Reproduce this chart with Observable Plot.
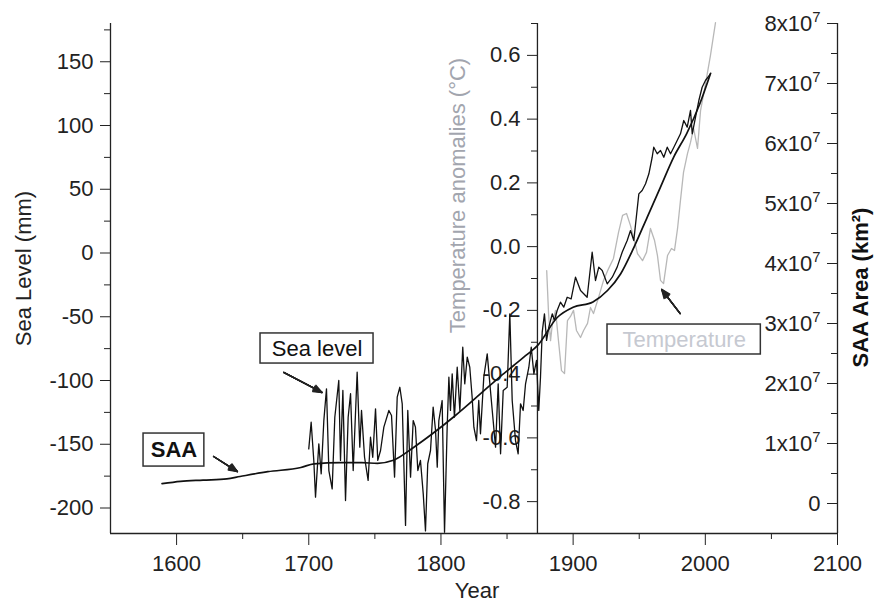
<!DOCTYPE html>
<html><head><meta charset="utf-8">
<script src="https://cdn.jsdelivr.net/npm/d3@7"></script>
<script src="https://cdn.jsdelivr.net/npm/@observablehq/plot@0.6"></script>
<style>
html,body{margin:0;padding:0;background:#fff;}
#chart{position:relative;width:874px;height:601px;}
#chart svg{position:absolute;left:0;top:0;}
</style></head><body><div id="chart"></div>
<script>
// ---- data ----
const seaYears = [1700,1701.8,1703.8,1705.1,1707.6,1709.4,1711.4,1713.4,1715.2,1717.7,
1719.7,1722.7,1724,1725.8,1727.8,1729.8,1731.6,1733.6,1736.6,1738.6,
1739.9,1742.2,1744.9,1746.7,1748.4,1750.5,1752.2,1754.3,1756.8,1760.6,
1762.6,1764.9,1766.9,1768.9,1770.7,1773.2,1774.9,1777,1779,1780.7,
1782.5,1784.5,1786.6,1788.3,1790,1792.1,1794.1,1795.9,1797.2,1798.4,
1800.9,1802.7,1804.7,1806,1807.2,1808.5,1810.2,1812.3,1814.3,1816.5,
1818,1819.9,1821.8,1823.6,1824.9,1826.9,1828.6,1829.9,1832.4,1835,
1837,1838.8,1841.3,1843.3,1845.1,1847.1,1850.1,1852.1,1853.9,1856.4,
1858.4,1860.2,1862.2,1864,1866.5,1868.3,1870.3,1872.3,1874,1875.3,
1876.6,1878.3,1879.9,1881.6,1884.2,1885.9,1887.9,1890.4,1892.9,1895.5,
1898.5,1901.8,1905.6,1910.6,1914.4,1916.9,1919.4,1922,1925.8,1929.6,
1933.3,1937.1,1940.9,1943.4,1945.9,1949.7,1952.2,1954.8,1957.3,1959.8,
1961,1963.6,1966.1,1968.6,1971.2,1973.7,1976.2,1978.7,1981.2,1983.7,
1986.3,1988.8,1990.1,1992.6,1995.1,1997.6,2000.1,2003.9];
const seaLevelMm = [-153.6,-132.7,-162.7,-191.5,-149.7,-173.2,-131.4,-106.5,-170.6,-185,
-128.8,-100,-162.7,-107.8,-194.1,-128.8,-110.4,-170.6,-93.5,-152.3,
-123.5,-160.2,-178.4,-144.5,-160.2,-122.2,-162.7,-154.9,-136.6,-123.5,
-127.5,-175.8,-113.1,-105.3,-118.3,-213.7,-123.5,-175.8,-131.4,-136.6,
-170.6,-162.7,-188.9,-218,-165.3,-154.9,-120.9,-139.2,-168,-131.4,
-115.7,-219,-136.6,-97.4,-123.5,-94.8,-128.8,-89.6,-123.5,-73.9,
-102.6,-81.7,-89.6,-113.1,-136.6,-147.1,-115.7,-141.8,-97.4,-79.1,
-102.6,-123.5,-152.3,-102.6,-157.5,-107.8,-105.3,-47.7,-115.7,-147.1,
-157.5,-118.3,-123.5,-102.6,-89.6,-73.9,-94.8,-84.3,-123.5,-97.4,
-62.1,-47.7,-68.6,-58.2,-47.7,-52.9,-45.1,-38.6,-42.5,-34.7,
-36,-19,-29.4,-34.7,0.6,-21.6,-11.1,-13.7,-24.2,-19,
-11.1,0.6,9.8,17.6,9.8,46.4,49,54.3,62.1,75.1,
83,77.8,80.4,75.1,83,77.8,83,88.2,93.5,103.9,
98.7,111.8,93.5,106.5,119.6,130,135.3,140.5];

const saaYears = [1589,1603,1620,1638,1648,1669,1694,1704,1724,1740,1752,1764,1779,1794,1810,1830,1845,1855,1865,1873,1888,1900,1915,1926,1936,1946,1956,1966,1976,1986,1996,2004];
const saaArea1e7 = [0.33,0.37,0.39,0.41,0.45,0.53,0.60,0.66,0.68,0.68,0.67,0.72,0.93,1.17,1.45,1.83,2.12,2.30,2.48,2.63,3.10,3.27,3.36,3.55,3.83,4.27,4.77,5.27,5.77,6.17,6.67,7.17];

const tempYears = [1880,1881.4,1882.9,1884.4,1886.7,1888.9,1891.2,1893.5,1895.7,1898,1900.3,1902.5,1905.6,1907.9,1910.9,1913.1,1915.4,1919.2,1923,1926.8,1930.5,1934.3,1937.4,1940.4,1943.4,1946.4,1948.7,1952.5,1955.5,1958.5,1961.6,1963.8,1966.1,1968.4,1971.4,1974.4,1976.7,1979,1981.2,1983.5,1986.5,1988.8,1991.1,1994.1,1996.4,2000.2,2003.9,2007.7];
const tempAnom = [-0.075,-0.21,-0.295,-0.238,-0.2,-0.295,-0.389,-0.398,-0.232,-0.219,-0.2,-0.263,-0.285,-0.263,-0.241,-0.191,-0.21,-0.16,-0.106,-0.069,-0.037,0.044,0.098,0.104,0.066,0.019,-0.022,-0.044,-0.018,0.057,0.019,-0.028,-0.106,-0.116,-0.028,-0.006,-0.012,0.057,0.145,0.233,0.292,0.327,0.371,0.308,0.427,0.512,0.6,0.703];

const yearTicks = [1600,1700,1800,1900,2000,2100];
const yearMinorTicks = [1650,1750,1850,1950,2050];
const seaTicks = [-200,-150,-100,-50,0,50,100,150];
const seaMinorTicks = [-175,-125,-75,-25,25,75,125,175];
const tempTicks = [-0.8,-0.6,-0.4,-0.2,0,0.2,0.4,0.6];
const tempMinorTicks = [-0.9,-0.7,-0.5,-0.3,-0.1,0.1,0.3,0.5,0.7];
const saaTicks = [0,1,2,3,4,5,6,7,8];
const saaMinorTicks = [0.5,1.5,2.5,3.5,4.5,5.5,6.5,7.5];

const annLabels = ["SAA","Sea level","Temperature"];
const annX1 = [1575,1663.5,1926], annX2 = [1621,1749,2042];
const annY1 = [-141.6,-63.1,-56.1], annY2 = [-167.5,-86.7,-79.6];
const arrowX1 = [1628,1681,1981], arrowY1 = [-159.6,-93.7,-47.5];
const arrowX2 = [1646,1710,1967], arrowY2 = [-171.4,-109.4,-28.6];

// ---- tables ----
const sea = seaYears.map((year,i)=>({year, v: seaLevelMm[i]}));
const saa = saaYears.map((year,i)=>({year, v: saaArea1e7[i]}));
const temp = tempYears.map((year,i)=>({year, v: tempAnom[i]}));
const ann = annLabels.map((label,i)=>({label, x1: annX1[i], x2: annX2[i], y1: annY1[i], y2: annY2[i],
  ax1: arrowX1[i], ay1: arrowY1[i], ax2: arrowX2[i], ay2: arrowY2[i]}));

const W = 874, H = 601;
const xDomain = [1550, 2100], xRange = [110, 837];
const common = {width: W, height: H, marginTop: 23, marginBottom: 68,
  style: {background: "transparent", fontSize: "22px", fontFamily: "'Liberation Sans', Arial, sans-serif", color: "#222", overflow: "visible"}};
const ink = "#222";

// Temperature layer (middle axis)
const tempPlot = Plot.plot({...common, marginLeft: 537, marginRight: 37,
  x: {domain: xDomain, range: xRange, axis: null},
  y: {domain: [-0.9, 0.7]},
  marks: [
    Plot.ruleX([1873], {stroke: ink, strokeWidth: 1.3}),
    Plot.line(temp, {x: "year", y: "v", stroke: "#b8b8b8", strokeWidth: 1.3}),
    Plot.axisY({ticks: tempTicks, tickSize: 10, tickPadding: 7, tickFormat: d => d.toFixed(1), label: null, stroke: ink}),
    Plot.axisY({ticks: tempMinorTicks, tickSize: 6, tickFormat: () => "", label: null, stroke: ink}),
    Plot.text(["Temperature anomalies (°C)"], {frameAnchor: "left", textAnchor: "middle", lineAnchor: "middle", dx: -80, dy: -83, rotate: -90, fill: "#a2a5ae"})
  ]});

// SAA layer (right axis)
const saaPlot = Plot.plot({...common, marginLeft: 837, marginRight: 37,
  x: {domain: xDomain, range: xRange, axis: null},
  y: {domain: [-0.5, 8]},
  marks: [
    Plot.ruleX([2100], {stroke: ink, strokeWidth: 1.3}),
    Plot.line(saa, {x: "year", y: "v", stroke: "#111", strokeWidth: 1.7, curve: "monotone-x"}),
    Plot.axisY({ticks: saaTicks, tickSize: 10, tickPadding: 7, tickFormat: d => d === 0 ? "0" : `${d}x10^7`, label: null, stroke: ink}),
    Plot.axisY({ticks: saaMinorTicks, tickSize: 6, tickFormat: () => "", label: null, stroke: ink}),
    Plot.text(["SAA Area (km²)"], {frameAnchor: "right", textAnchor: "middle", lineAnchor: "middle", dx: 23, dy: 9, rotate: -90, fontWeight: "bold", fill: "#111"})
  ]});

// arrow heads drawn as a fan of narrowing heads so they read as filled
const arrowFan = [45, 34, 24, 14, 6].map(a =>
  Plot.arrow(ann, {x1: "ax1", y1: "ay1", x2: "ax2", y2: "ay2", stroke: "#222", strokeWidth: 1.4, headLength: 10, headAngle: a}));

// Main layer: sea level, x axis, left axis, annotations
const mainPlot = Plot.plot({...common, marginLeft: 110, marginRight: 37,
  x: {domain: xDomain, range: xRange},
  y: {domain: [-220, 180]},
  marks: [
    Plot.ruleY([-220], {stroke: ink, strokeWidth: 1.3}),
    Plot.ruleX([1550], {stroke: ink, strokeWidth: 1.3}),
    Plot.line(sea, {x: "year", y: "v", stroke: "#111", strokeWidth: 1.3, strokeLinejoin: "round"}),
    Plot.axisX({ticks: yearTicks, tickSize: 12, tickPadding: 10, tickFormat: d => String(d), label: null, stroke: ink}),
    Plot.axisX({ticks: yearMinorTicks, tickSize: 6, tickFormat: () => "", label: null, stroke: ink}),
    Plot.axisY({ticks: seaTicks, tickSize: 10, tickPadding: 7, tickFormat: d => String(d), label: null, stroke: ink}),
    Plot.axisY({ticks: seaMinorTicks, tickSize: 6, tickFormat: () => "", label: null, stroke: ink}),
    Plot.rect(ann, {x1: "x1", x2: "x2", y1: "y1", y2: "y2", fill: "white", stroke: "#333", strokeWidth: 1.5}),
    Plot.text(ann.filter(d => d.label === "SAA"), {x: d => (d.x1 + d.x2) / 2, y: d => (d.y1 + d.y2) / 2, text: "label", fontWeight: "bold", fill: "#111"}),
    Plot.text(ann.filter(d => d.label === "Sea level"), {x: d => (d.x1 + d.x2) / 2, y: d => (d.y1 + d.y2) / 2, text: "label", fill: "#111"}),
    Plot.text(ann.filter(d => d.label === "Temperature"), {x: d => (d.x1 + d.x2) / 2, y: d => (d.y1 + d.y2) / 2, text: "label", fill: "#c6c9d1"}),
    ...arrowFan,
    Plot.text(["Sea Level (mm)"], {frameAnchor: "left", textAnchor: "middle", lineAnchor: "middle", dx: -87, dy: -10, rotate: -90, fill: "#222"}),
    Plot.text(["Year"], {frameAnchor: "bottom", textAnchor: "middle", lineAnchor: "middle", dx: 3, dy: 57, fill: "#222"})
  ]});

const chart = document.getElementById("chart");
chart.append(tempPlot, saaPlot, mainPlot);

// superscript exponents on SAA tick labels
d3.select(saaPlot).selectAll("text").each(function() {
  const m = this.textContent.match(/^(\d+x10)\^(\d)$/);
  if (m) {
    const t = d3.select(this);
    t.text(null);
    t.append("tspan").text(m[1]);
    t.append("tspan").attr("dy", "-0.6em").attr("font-size", "0.68em").text(m[2]);
  }
});
</script></body></html>
